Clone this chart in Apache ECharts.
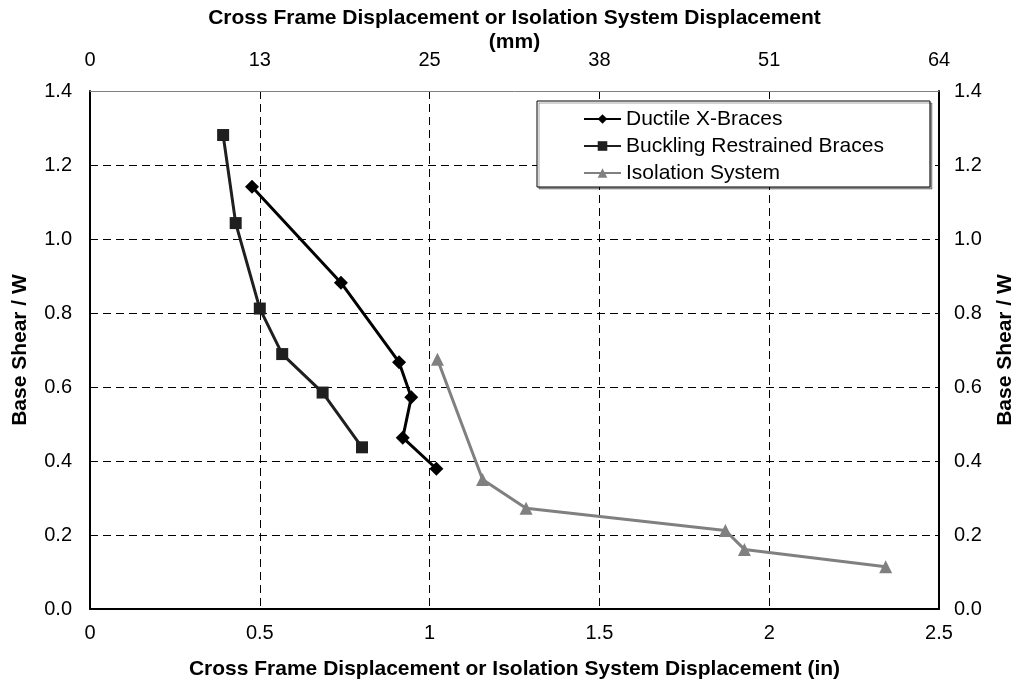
<!DOCTYPE html>
<html>
<head>
<meta charset="utf-8">
<script src="https://cdn.jsdelivr.net/npm/echarts@6/dist/echarts.min.js"></script>
<style>
  html, body { margin: 0; padding: 0; background: #fff; }
  #chart { width: 1016px; height: 688px; }
</style>
</head>
<body>
<div id="chart"></div>
<script>
// Displacement (in) vs. normalised base shear for each system
const ductileX = [0.477, 0.739, 0.910, 0.946, 0.921, 1.020];
const ductileY = [1.141, 0.882, 0.667, 0.572, 0.463, 0.379];

const bucklingX = [0.392, 0.429, 0.500, 0.566, 0.685, 0.801];
const bucklingY = [1.281, 1.043, 0.812, 0.689, 0.585, 0.437];

const isolationX = [1.023, 1.156, 1.284, 1.871, 1.927, 2.343];
const isolationY = [0.675, 0.350, 0.272, 0.212, 0.161, 0.114];

const seriesNames = ['Ductile X-Braces', 'Buckling Restrained Braces', 'Isolation System'];

const xTitle = 'Cross Frame Displacement or Isolation System Displacement (in)';
const xTopTitle = 'Cross Frame Displacement or Isolation System Displacement\n(mm)';
const yTitle = 'Base Shear / W';

const pairs = (xs, ys) => xs.map((x, i) => [x, ys[i]]);

const FONT = '"Liberation Sans", Arial, sans-serif';
const labelStyle = { fontFamily: FONT, fontSize: 20, color: '#000' };
const nameStyle = { fontFamily: FONT, fontSize: 21, fontWeight: 'bold', color: '#000' };
const gridDash = { color: '#000', width: 1, type: [8, 5] };

const chart = echarts.init(document.getElementById('chart'), null, { renderer: 'canvas' });

chart.setOption({
  animation: false,
  backgroundColor: '#fff',
  grid: { left: 90, right: 77, top: 91, bottom: 79, containLabel: false, outerBoundsMode: 'none' },
  legend: {
    orient: 'vertical',
    left: 537,
    top: 101,
    data: seriesNames,
    backgroundColor: '#fff',
    borderColor: '#000',
    borderWidth: 1,
    borderRadius: 0,
    shadowColor: 'rgba(0,0,0,0.35)',
    shadowOffsetX: 2,
    shadowOffsetY: 2,
    padding: [7, 46, 3, 46],
    itemWidth: 37,
    itemHeight: 12,
    itemGap: 5,
    textStyle: { fontFamily: FONT, fontSize: 21, color: '#000', lineHeight: 22 }
  },
  xAxis: [
    {
      type: 'value',
      position: 'bottom',
      min: 0, max: 2.5, interval: 0.5,
      name: xTitle,
      nameLocation: 'middle',
      nameGap: 50,
      nameTextStyle: nameStyle,
      axisLine: { show: true, onZero: false, lineStyle: { color: '#000', width: 2 } },
      axisTick: { show: false },
      axisLabel: Object.assign({ margin: 14 }, labelStyle),
      splitLine: { show: true, lineStyle: gridDash }
    },
    {
      type: 'value',
      position: 'top',
      min: 0, max: 63.5, interval: 12.7,
      name: xTopTitle,
      nameLocation: 'middle',
      nameGap: 37,
      nameMoveOverlap: false,
      nameTextStyle: Object.assign({ lineHeight: 24 }, nameStyle),
      axisLine: { show: true, onZero: false, lineStyle: { color: '#808080', width: 1 } },
      axisTick: { show: false },
      axisLabel: Object.assign({ margin: 21, formatter: v => String(Math.round(v)) }, labelStyle),
      splitLine: { show: false }
    }
  ],
  yAxis: [
    {
      type: 'value',
      position: 'left',
      min: 0, max: 1.4, interval: 0.2,
      name: yTitle,
      nameLocation: 'middle',
      nameRotate: 90,
      nameGap: 59,
      nameTextStyle: nameStyle,
      axisLine: { show: true, onZero: false, lineStyle: { color: '#000', width: 2 } },
      axisTick: { show: false },
      axisLabel: Object.assign({ margin: 18, formatter: v => v.toFixed(1) }, labelStyle),
      splitLine: { show: true, lineStyle: gridDash }
    },
    {
      type: 'value',
      position: 'right',
      min: 0, max: 1.4, interval: 0.2,
      name: yTitle,
      nameLocation: 'middle',
      nameRotate: 90,
      nameGap: 56,
      nameTextStyle: nameStyle,
      axisLine: { show: true, onZero: false, lineStyle: { color: '#000', width: 2 } },
      axisTick: { show: false },
      axisLabel: Object.assign({ margin: 15, formatter: v => v.toFixed(1) }, labelStyle),
      splitLine: { show: false }
    }
  ],
  series: [
    {
      name: seriesNames[0],
      type: 'line',
      data: pairs(ductileX, ductileY),
      symbol: 'diamond',
      symbolSize: 14,
      showAllSymbol: true,
      lineStyle: { color: '#000', width: 3 },
      itemStyle: { color: '#000' },
      z: 3
    },
    {
      name: seriesNames[1],
      type: 'line',
      data: pairs(bucklingX, bucklingY),
      symbol: 'rect',
      symbolSize: 12,
      showAllSymbol: true,
      lineStyle: { color: '#1f1f1f', width: 3 },
      itemStyle: { color: '#1f1f1f' },
      z: 3
    },
    {
      name: seriesNames[2],
      type: 'line',
      data: pairs(isolationX, isolationY),
      symbol: 'triangle',
      symbolSize: 13,
      showAllSymbol: true,
      lineStyle: { color: '#808080', width: 3 },
      itemStyle: { color: '#808080' },
      z: 3
    }
  ]
});
</script>
</body>
</html>
